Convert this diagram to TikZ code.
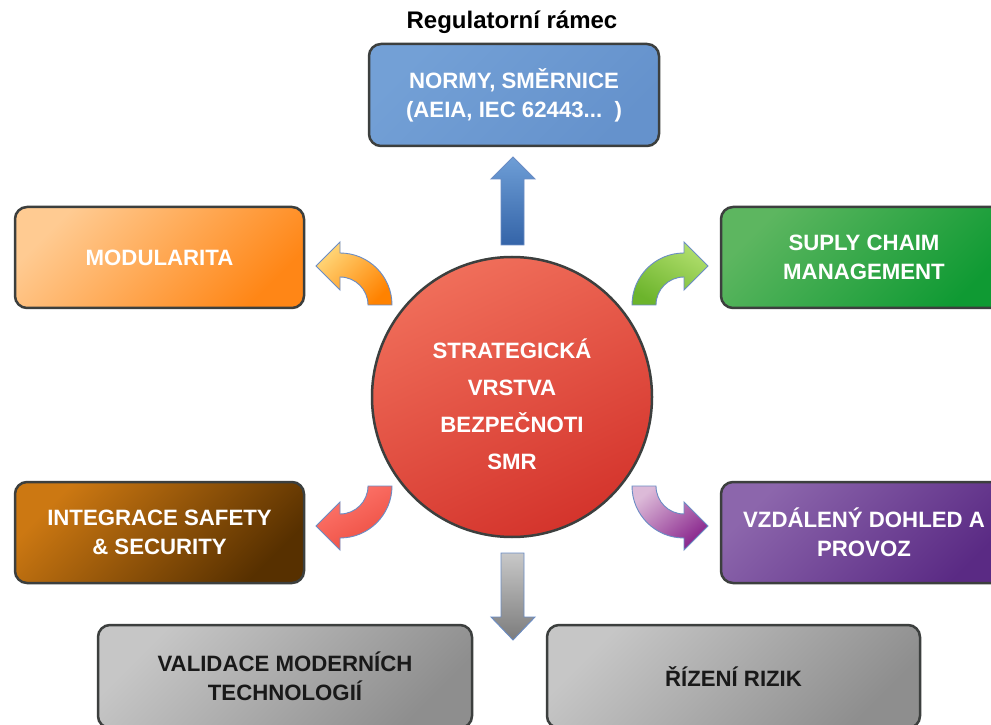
\documentclass[tikz,border=0pt]{standalone}
\usepackage{fontspec}
\setmainfont{Liberation Sans}
\definecolor{boxline}{HTML}{3C3F3E}
\definecolor{arrline}{HTML}{6A8CC4}
\definecolor{blueA}{HTML}{73A0D6}
\definecolor{blueB}{HTML}{6592CC}
\definecolor{orA}{HTML}{FFCB92}
\definecolor{orB}{HTML}{FF8616}
\definecolor{grA}{HTML}{5DB660}
\definecolor{grB}{HTML}{0F9A33}
\definecolor{brA}{HTML}{CC7812}
\definecolor{brB}{HTML}{573000}
\definecolor{puA}{HTML}{8C66AC}
\definecolor{puB}{HTML}{5A2A84}
\definecolor{gyA}{HTML}{C6C6C6}
\definecolor{gyB}{HTML}{8E8E8E}
\definecolor{rdA}{HTML}{F06E5A}
\definecolor{rdB}{HTML}{D4342C}
% block arrow fills
\definecolor{upA}{HTML}{6E9ED6}
\definecolor{upB}{HTML}{3464A8}
\definecolor{dnA}{HTML}{C8C8C8}
\definecolor{dnB}{HTML}{7C7C7C}
\definecolor{oaA}{HTML}{FFD678}
\definecolor{oaB}{HTML}{FF8200}
\definecolor{gaA}{HTML}{B0DE6C}
\definecolor{gaB}{HTML}{6CB42C}
\definecolor{raA}{HTML}{FF786E}
\definecolor{raB}{HTML}{EC4C40}
\definecolor{paA}{HTML}{DCBAD8}
\definecolor{paB}{HTML}{88248C}
\tikzset{
  card/.style={rectangle, rounded corners=12pt, draw=boxline, line width=2.5pt,
    align=center, inner sep=4pt, font=\bfseries\fontsize{22.2}{29}\selectfont, text=white},
  darktext/.style={text=black!90},
  diag/.style 2 args={top color=#1, bottom color=#2, shading angle=45},
  blockarrow/.style={draw=arrline, line width=0.9pt, line join=miter},
}
\begin{document}
\begin{tikzpicture}[x=1pt,y=1pt]
  \fill[white] (0,0) rectangle (991,724);
  \useasboundingbox (0,0) rectangle (991,724);
  \clip (0,0) rectangle (991,724);

  % heading
  \node[font=\bfseries\fontsize{24}{28}\selectfont] (title) at (512,702) {Regulatorní rámec};

  % central circle
  \node[circle, minimum size=280pt, inner sep=0pt, draw=boxline, line width=2.5pt,
        top color=rdA, bottom color=rdB, shading angle=25] (core) at (512,327) {};
  \node[align=center, text=white, font=\bfseries\fontsize{22.2}{37}\selectfont] (coretext) at (512,320)
    {STRATEGICKÁ\\VRSTVA\\BEZPEČNOTI\\SMR};

  % surrounding boxes
  \node[card, minimum width=290pt, minimum height=102pt, diag={blueA}{blueB}] (normy) at (514,629)
    {NORMY, SMĚRNICE\\(AEIA, IEC 62443...\ \ )};
  \node[card, minimum width=289pt, minimum height=101pt, diag={orA}{orB}] (modul) at (159.5,466.5)
    {MODULARITA};
  \node[card, minimum width=286pt, minimum height=101pt, diag={grA}{grB}] (supply) at (864,466.5)
    {SUPLY CHAIM\\MANAGEMENT};
  \node[card, minimum width=289pt, minimum height=101pt, diag={brA}{brB}] (integr) at (159.5,191.5)
    {INTEGRACE SAFETY\\\& SECURITY};
  \node[card, minimum width=286pt, minimum height=101pt, diag={puA}{puB}] (vzdal) at (864,191.5)
    {VZDÁLENÝ DOHLED A\\PROVOZ};
  \node[card, darktext, minimum width=374pt, minimum height=103pt, diag={gyA}{gyB}] (valid) at (285,47.5)
    {VALIDACE MODERNÍCH\\TECHNOLOGIÍ};
  \node[card, darktext, minimum width=373pt, minimum height=103pt, diag={gyA}{gyB}] (rizeni) at (733.5,47.5)
    {ŘÍZENÍ RIZIK};

  % straight block arrows
  \draw[blockarrow, top color=upA, bottom color=upB]
    (501,479) -- (501,545) -- (491,545) -- (513,567) -- (535,545) -- (524,545) -- (524,479) -- cycle;
  \draw[blockarrow, top color=dnA, bottom color=dnB]
    (501,171) -- (501,107) -- (491,107) -- (513,84) -- (535,107) -- (524,107) -- (524,171) -- cycle;

  % curved block arrows
  \draw[blockarrow, top color=oaA, bottom color=oaB, shading angle=45]
    (392,419) arc[start angle=0, end angle=90, radius=52pt] -- (340,482) -- (316,458) -- (340,434) -- (340,447)
    arc[start angle=90, end angle=0, radius=28pt] -- cycle;
  \draw[blockarrow, top color=gaA, bottom color=gaB, shading angle=-30]
    (632,419) arc[start angle=180, end angle=90, radius=52pt] -- (684,482) -- (708,458) -- (684,434) -- (684,447)
    arc[start angle=90, end angle=180, radius=28pt] -- cycle;
  \draw[blockarrow, top color=raA, bottom color=raB, shading angle=30]
    (392,238) arc[start angle=0, end angle=-90, radius=52pt] -- (340,174) -- (316,198) -- (340,222) -- (340,210)
    arc[start angle=-90, end angle=0, radius=28pt] -- cycle;
  \draw[blockarrow, top color=paA, bottom color=paB, shading angle=40]
    (632,238) arc[start angle=180, end angle=270, radius=52pt] -- (684,186) -- (684,174) -- (708,198) -- (684,222) -- (684,210)
    arc[start angle=270, end angle=180, radius=28pt] -- cycle;
\end{tikzpicture}
\end{document}
